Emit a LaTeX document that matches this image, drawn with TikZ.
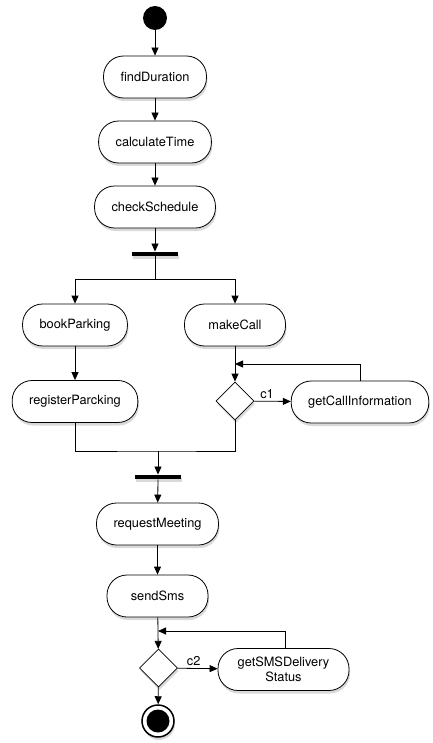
\documentclass[tikz,border=0pt]{standalone}
\usepackage{fontspec}
\setmainfont{TeX Gyre Heros}
\usepackage{tikz}
\usetikzlibrary{positioning, shapes.geometric, arrows.meta, shadows}

\begin{document}
\begin{tikzpicture}[
  x=1pt, y=-1pt,
  act/.style={draw, fill=white, rounded corners=20pt, line width=0.8pt,
              minimum width=101pt, minimum height=42pt, inner xsep=17pt,
              align=center, font=\fontsize{12.8}{14.5}\selectfont,
              drop shadow={shadow xshift=1pt, shadow yshift=-3pt, opacity=0.3}},
  bar/.style={fill=black, minimum width=46pt, minimum height=4.5pt, inner sep=0pt,
              drop shadow={shadow xshift=1pt, shadow yshift=-3pt, opacity=0.3}},
  choice/.style={diamond, draw, fill=white, line width=0.8pt, inner sep=0pt,
                 minimum width=38pt, minimum height=38pt,
                 drop shadow={shadow xshift=1pt, shadow yshift=-3pt, opacity=0.3}},
  flow/.style={-{Triangle[length=8pt,width=7pt]}, line width=0.8pt},
  line/.style={line width=0.8pt},
  guard/.style={font=\fontsize{12.8}{14.5}\selectfont, inner sep=2pt},
]
\useasboundingbox (0,0) rectangle (432,743);

\node[circle, fill=black, minimum size=24pt, inner sep=0pt] (start) at (155,18) {};
\node[act] (findDuration) at (155,77) {findDuration};
\node[act] (calculateTime) at (155,142) {calculateTime};
\node[act] (checkSchedule) at (155,207) {checkSchedule};
\node[bar] (fork) at (155,254) {};

\node[act] (bookParking) at (75,325) {bookParking};
\node[act] (makeCall) at (235,325) {makeCall};
\node[act] (registerParcking) at (75,401.5) {registerParcking};
\node[choice] (callChoice) at (235,401) {};
\node[act] (getCallInformation) at (360,402) {getCallInformation};

\node[bar] (join) at (158,477) {};
\node[act] (requestMeeting) at (157.5,524) {requestMeeting};
\node[act] (sendSms) at (157.5,596) {sendSms};
\node[choice] (smsChoice) at (158.5,668) {};
\node[act, minimum width=131pt, inner xsep=10pt] (getSMSDeliveryStatus) at (283.5,669.5) {getSMSDelivery\\Status};

\node[circle, draw, fill=white, line width=1.5pt, minimum size=32pt, inner sep=0pt,
      drop shadow={shadow xshift=1pt, shadow yshift=-3pt, opacity=0.3}] (stop) at (158,721) {};
\node[circle, fill=black, minimum size=23pt, inner sep=0pt] at (stop) {};

\coordinate (split) at (155,279);
\coordinate (merge) at (158,451);
\coordinate (callBack) at (235,364);
\coordinate (smsBack) at (158,631);

% main line
\draw[flow] (start) -- (findDuration);
\draw[flow] (findDuration) -- (calculateTime);
\draw[flow] (calculateTime) -- (checkSchedule);
\draw[flow] (checkSchedule) -- (fork);

% fork
\draw[line] (fork) -- (split);
\draw[flow] (split) -| (bookParking);
\draw[flow] (split) -| (makeCall);
\draw[flow] (bookParking) -- (registerParcking);
\draw[flow] (makeCall) -- (callChoice);
\draw[flow] (callChoice) -- node[guard, above, pos=0.35] {c1} (getCallInformation);
\draw[flow] (getCallInformation.north) |- (callBack);

% join
\draw[line] (registerParcking) |- (merge) -| (callChoice);
\draw[flow] (merge) -- (join);
\draw[flow] (join) -- (requestMeeting);
\draw[flow] (requestMeeting) -- (sendSms);
\draw[flow] (sendSms) -- (smsChoice);
\draw[flow] (smsChoice) -- node[guard, above, pos=0.4] {c2} (getSMSDeliveryStatus);
\draw[flow] ([xshift=1.5pt]getSMSDeliveryStatus.north) |- (smsBack);
\draw[flow] (smsChoice) -- (stop);
\end{tikzpicture}
\end{document}
